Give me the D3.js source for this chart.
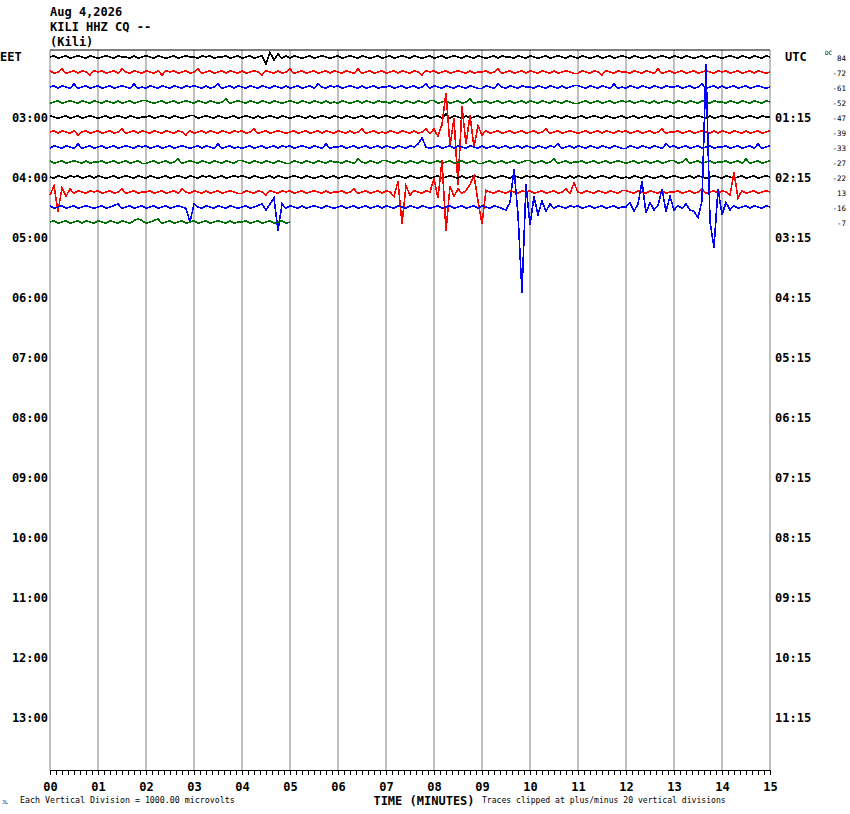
<!DOCTYPE html>
<html>
<head>
<meta charset="utf-8">
<script src="https://cdn.jsdelivr.net/npm/d3@7"></script>
<style>
  body { margin: 0; background: #fff; }
  text { font-family: "DejaVu Sans Mono", monospace; }
</style>
</head>
<body>
<script>
// header
var titleLines = ["Aug 4,2026", "KILI HHZ CQ --", "(Kili)"];
// row labels (every 4th row, one row = 15 minutes)
var eetLabels = ["03:00","04:00","05:00","06:00","07:00","08:00","09:00","10:00","11:00","12:00","13:00"];
var utcLabels = ["01:15","02:15","03:15","04:15","05:15","06:15","07:15","08:15","09:15","10:15","11:15"];
var dcValues = [84, -72, -61, -52, -47, -39, -33, -27, -22, 13, -16, -7];
var minuteLabels = ["00","01","02","03","04","05","06","07","08","09","10","11","12","13","14","15"];
var traceColors = ["#000000", "#ff0000", "#0000ff", "#007000"];

// trace samples, one value every 5 s (12 per minute), in units of 100 microvolts
var row00 = [
  0,1,-1,0,1,-1,0,1,0,-1,1,0,
  -1,0,1,0,-1,1,0,0,-1,1,-1,0,
  1,0,-1,1,0,-1,0,1,-1,0,1,0,
  0,-1,1,0,1,-1,0,0,1,-1,0,1,
  -1,0,1,-1,0,1,-5,3,-2,2,-1,1,
  -1,1,0,-1,0,1,-1,0,1,0,-1,0,
  1,-1,0,1,0,-1,1,0,-1,0,1,-1,
  0,1,-1,0,1,0,-1,1,0,-1,0,1,
  -1,0,1,-1,0,1,0,-1,1,0,-1,1,
  0,-1,0,1,-1,1,0,0,-1,1,0,-1,
  1,0,-1,0,1,-1,0,1,0,-1,1,0,
  -1,1,0,-1,0,1,-1,0,1,-1,0,1,
  0,-1,1,0,-1,0,1,-1,0,1,0,-1,
  1,0,-1,1,0,-1,0,1,-1,0,1,0,
  -1,0,1,0,-1,1,0,-1,1,0,-1,1,
  0];
var row01 = [
  1,-1,0,2,-1,0,1,-1,1,0,-2,1,
  0,1,-1,0,1,-1,2,0,-1,1,0,-1,
  1,0,-1,1,-2,1,0,1,-1,0,1,-1,
  0,2,-1,0,1,-1,0,1,-1,1,0,-1,
  1,-1,0,1,0,-2,1,0,-1,1,-1,0,
  2,-1,0,1,-1,0,1,-1,0,1,-1,1,
  0,-1,1,0,-1,2,-1,0,1,-1,0,1,
  -1,0,1,-1,1,0,-1,1,0,-2,1,0,
  1,-1,0,1,-1,0,1,0,-1,1,-1,0,
  0,1,-1,0,2,-1,0,1,-1,0,1,-1,
  1,0,-1,1,0,-1,1,-1,0,1,0,-1,
  -1,1,0,-1,1,0,-2,1,0,-1,1,0,
  0,-1,1,0,-1,1,0,-1,2,-1,0,1,
  -1,0,1,-1,0,1,-1,0,1,0,-1,1,
  0,1,-1,0,1,-1,0,1,-1,1,0,-1,
  0];
var row02 = [
  0,1,-1,1,0,-1,2,-1,0,1,-1,0,
  1,-1,0,1,-1,0,1,0,-1,2,-1,0,
  -1,1,0,-1,1,0,-1,1,0,-1,1,0,
  1,0,-1,1,-1,0,2,-1,0,1,-1,1,
  0,-1,1,0,-1,1,0,-1,1,0,-1,1,
  -1,0,1,-1,0,1,-1,2,0,-1,1,0,
  1,-1,0,1,0,-1,1,-1,0,1,-1,0,
  0,1,-1,0,1,-1,0,1,-1,0,2,-1,
  1,0,-1,1,0,-1,1,0,-1,1,0,-1,
  -1,1,0,-1,2,0,-1,1,0,-1,1,0,
  0,-1,1,0,-1,1,0,-1,1,-1,0,1,
  1,0,-1,1,0,-1,1,0,-1,2,-1,0,
  -1,1,0,-1,1,0,-1,1,0,-1,1,0,
  0,1,-1,0,1,-1,0,2,-1,0,1,-1,
  1,-1,0,1,-1,0,1,-1,0,1,0,-1,
  0];
var row03 = [
  -1,0,1,-1,0,1,0,-1,1,0,-1,1,
  0,-1,1,0,-1,1,-1,0,1,-1,0,1,
  1,0,-1,0,1,-1,0,1,-1,0,1,0,
  -1,1,0,-1,1,0,-1,0,2,-1,0,1,
  0,-1,1,0,-1,1,0,-1,1,0,-1,0,
  1,0,-1,1,0,-1,1,0,-1,1,-1,0,
  -1,1,0,-1,0,1,-1,1,0,-1,1,0,
  0,-1,1,0,-1,1,0,-1,1,0,-1,1,
  1,-1,0,1,-1,0,1,-1,0,2,-1,0,
  0,1,-1,0,1,-1,0,1,-1,0,1,-1,
  1,0,-1,1,0,-1,1,0,-1,1,0,-1,
  -1,0,1,-1,0,1,-1,0,1,-1,0,1,
  0,1,-1,0,1,0,-1,1,-1,0,1,0,
  -1,1,0,-1,1,0,-1,1,0,-1,1,0,
  0,-1,1,0,-1,1,0,-1,1,0,-1,1,
  0];
var row04 = [
  1,0,-1,0,1,-1,0,1,-1,0,1,0,
  -1,0,1,-1,0,1,0,-1,1,0,-1,0,
  0,1,-1,0,1,0,-1,1,0,-1,0,1,
  1,-1,0,1,0,-1,1,0,-1,0,1,-1,
  0,1,0,-1,1,-1,0,1,0,-1,1,0,
  -1,0,1,0,-1,1,-1,0,1,0,-1,1,
  0,-1,1,0,-1,0,1,-1,0,1,-1,0,
  1,0,-1,1,0,-1,0,1,-1,0,1,-1,
  0,1,-1,2,-1,1,0,-1,1,-1,0,1,
  -1,0,1,-1,0,1,0,-1,1,0,-1,0,
  1,-1,0,1,0,-1,1,0,-1,1,0,-1,
  0,1,-1,0,1,0,-1,1,0,-1,0,1,
  -1,0,1,-1,0,1,-1,0,1,0,-1,1,
  0,-1,0,1,-1,0,1,0,-1,1,-1,0,
  1,0,-1,0,1,-1,0,1,0,-1,1,0,
  0];
var row05 = [
  0,1,-1,1,0,-1,1,-2,0,1,-1,0,
  1,-1,0,1,-1,0,2,-1,0,1,-1,1,
  0,-1,1,0,-1,1,0,-1,1,0,-2,1,
  -1,0,1,-1,1,0,-1,1,0,-1,1,0,
  1,-1,0,2,-1,0,1,-1,0,1,0,-1,
  0,1,-1,0,1,-1,0,1,-1,1,0,-1,
  1,0,-1,1,-1,0,2,-1,0,1,-1,0,
  -1,1,0,-1,1,0,-1,1,-1,0,2,-1,
  2,-3,5,26,-9,9,-35,17,-8,11,-10,4,
  -2,1,-1,0,1,-1,0,1,-1,0,1,-1,
  0,1,-1,0,2,-1,0,1,-1,0,1,0,
  -1,0,1,-1,0,1,-1,1,0,-1,1,0,
  1,-1,0,1,-1,0,1,-1,0,2,-1,0,
  0,1,-1,0,1,-1,0,1,0,-1,1,-1,
  1,0,-1,1,0,-1,1,-1,0,1,-1,0,
  1];
var row06 = [
  -1,1,0,-1,1,0,-1,2,-1,0,1,-1,
  0,1,-1,0,1,-1,0,1,0,-1,1,0,
  1,-1,0,1,-1,0,1,-1,0,1,0,-1,
  0,1,-1,1,0,-1,2,-1,0,1,-1,0,
  -1,0,1,-1,0,1,-1,0,1,-1,1,0,
  1,-1,0,1,0,-1,1,0,-1,2,-1,0,
  0,1,-1,0,1,-1,0,1,-1,0,1,-1,
  1,0,-1,1,0,-1,1,0,2,6,0,-1,
  0,1,-1,0,1,-1,1,0,-1,1,0,-1,
  1,-1,0,1,-1,0,1,-1,0,1,-1,1,
  0,-1,1,0,-1,1,0,2,-1,0,1,-1,
  1,0,-1,1,0,-1,1,0,-1,1,0,-1,
  -1,1,0,-1,1,0,-1,1,0,-1,2,0,
  1,-1,0,1,-1,0,1,-1,0,1,-1,0,
  0,1,-1,0,1,-1,0,1,-1,2,-1,0,
  1];
var row07 = [
  1,-1,0,1,-1,0,1,0,-1,1,-1,0,
  0,1,-1,0,1,-1,0,1,-1,0,1,-1,
  -1,0,1,-1,0,1,-1,0,2,-1,0,1,
  0,-1,1,0,-1,1,0,-1,1,0,-1,1,
  1,0,-1,1,0,-1,1,0,-1,1,0,-1,
  -1,1,0,-1,1,0,-1,1,0,-1,1,0,
  0,-1,1,0,-1,2,0,-1,1,0,-1,1,
  1,0,-1,1,0,-1,1,0,-1,1,0,-1,
  0,1,-1,0,1,-1,0,1,-1,0,1,-1,
  -1,0,1,-1,0,1,-1,0,1,-1,0,1,
  1,-1,0,1,-1,0,2,-1,0,1,-1,0,
  0,1,-1,0,1,-1,0,1,-1,0,1,0,
  -1,0,1,-1,0,1,-1,0,1,-1,0,1,
  1,-1,0,2,-1,0,1,-1,0,1,-1,0,
  0,1,-1,0,1,-1,2,-1,0,1,-1,0,
  1];
var row08 = [
  0,-1,1,0,-1,1,0,1,-1,0,1,-1,
  1,0,-1,0,1,-1,0,1,0,-1,1,0,
  -1,1,0,-1,0,1,-1,0,1,0,-1,1,
  0,-1,1,0,1,-1,0,1,-1,0,1,0,
  1,0,-1,1,0,-1,0,1,-1,1,0,-1,
  0,1,0,-1,1,0,-1,0,1,-1,0,1,
  -1,0,1,0,-1,1,0,-1,1,0,-1,0,
  1,-1,0,1,0,-1,1,0,-1,0,1,-1,
  0,1,-1,0,1,0,-1,1,-1,0,1,0,
  -1,0,1,-1,0,1,0,-1,1,0,-1,1,
  0,1,-1,0,1,-1,0,1,0,-1,1,-1,
  1,0,-1,1,-1,0,1,0,-1,1,0,-1,
  0,-1,1,0,-1,1,0,-1,0,1,-1,0,
  1,0,-1,0,1,-1,1,0,-1,0,1,0,
  -1,1,0,-1,0,1,-1,0,1,-1,0,1,
  0];
var row09 = [
  -2,4,-13,3,-3,2,-1,1,0,-1,1,0,
  1,-1,0,1,-1,0,2,-1,0,1,-1,0,
  0,1,-1,0,1,-1,0,1,-1,2,0,-1,
  1,0,-1,1,-1,0,1,-1,0,1,0,-1,
  -1,1,0,-1,1,0,-2,1,0,-1,1,0,
  1,-1,0,1,-1,0,1,0,-1,1,-1,0,
  0,1,-1,0,2,-1,0,1,-1,0,1,-1,
  1,0,-3,7,-21,4,-2,1,0,-1,1,0,
  9,-4,21,-26,4,-3,2,-1,1,5,11,-6,
  -21,1,0,-1,1,0,-1,1,0,-1,1,0,
  1,-1,0,1,-1,0,1,-1,0,2,-1,6,
  0,-1,1,0,-1,1,0,-1,1,0,-1,1,
  1,0,-1,1,0,-1,1,0,-1,1,-1,0,
  0,1,-1,0,1,-1,0,2,-1,0,1,-1,
  1,0,-2,13,-4,1,-1,0,1,-1,0,1,
  0];
var row10 = [
  1,-1,0,1,-1,0,1,-1,0,1,0,-1,
  0,1,-1,0,1,2,-1,0,1,-1,0,1,
  -1,0,1,-1,0,1,-1,0,1,0,-1,-10,
  2,0,-1,1,0,-1,1,0,-1,1,0,-1,
  0,1,-1,0,1,2,-2,2,6,-16,2,-1,
  1,0,-1,1,-1,0,1,0,-1,1,0,-1,
  0,1,-1,0,1,-1,0,1,-1,0,1,-1,
  1,0,-1,1,0,-1,1,0,-1,1,0,-1,
  0,1,-1,0,1,-1,0,1,-1,0,1,-1,
  1,0,-1,1,0,-1,-2,3,25,-5,-57,15,
  -12,7,-5,4,-3,2,-1,1,0,-1,1,0,
  1,-1,0,1,-1,0,1,-1,0,1,-1,0,
  0,3,-3,2,17,-4,3,-2,1,12,-3,7,
  -2,1,-1,2,-2,-3,-7,4,95,-10,-27,12,
  -5,3,-2,1,-1,0,1,-1,1,0,-1,1,
  0];
var row11 = [
  0,1,-1,0,1,-1,0,1,-1,1,0,-1,
  1,0,-1,1,0,-1,1,0,-1,1,2,1,
  -1,0,1,2,-1,0,1,-1,0,1,-1,0,
  1,-1,0,1,-1,0,1,0,-1,1,-1,0,
  0,1,-1,0,1,-1,0,1,-1,0,1,-1,
  0];

var traces = [row00, row01, row02, row03, row04, row05, row06, row07, row08, row09, row10, row11];

var width = 850, height = 814;
var svg = d3.select("body").append("svg")
    .attr("width", width)
    .attr("height", height);

svg.append("rect").attr("width", width).attr("height", height).attr("fill", "#fff");

var x = d3.scaleLinear().domain([0, 15]).range([50, 770]);
var yRow = d3.scaleLinear().domain([0, 47]).range([57, 762]);
// one vertical division (1000 microvolts) per row spacing
var amp = d3.scaleLinear().domain([0, 1000]).range([0, -15]);
var step = 1 / 12;

// grid
svg.append("g").selectAll("line")
    .data(d3.range(0, 16))
    .enter().append("line")
    .attr("x1", function(d) { return x(d); })
    .attr("x2", function(d) { return x(d); })
    .attr("y1", 50)
    .attr("y2", 770)
    .attr("stroke", "#808080")
    .attr("stroke-width", 1);

svg.append("line")
    .attr("x1", x(0)).attr("x2", x(15))
    .attr("y1", 50).attr("y2", 50)
    .attr("stroke", "#000");

// traces
var line = d3.line()
    .x(function(d, k) { return x(k * step); });

svg.append("g").selectAll("path")
    .data(traces)
    .enter().append("path")
    .attr("d", function(d, i) {
        return line.y(function(v) {
            var uv = Math.max(-20000, Math.min(20000, v * 100));
            return yRow(i) + amp(uv);
        })(d);
    })
    .attr("fill", "none")
    .attr("stroke", function(d, i) { return traceColors[i % 4]; })
    .attr("stroke-width", 1.6)
    .attr("shape-rendering", "crispEdges");

// header
svg.append("g").selectAll("text")
    .data(titleLines)
    .enter().append("text")
    .attr("x", 50)
    .attr("y", function(d, i) { return 12 + i * 15; })
    .attr("dy", "0.35em")
    .attr("font-size", "12px")
    .attr("font-weight", "bold")
    .text(function(d) { return d; });

// left/right labels
svg.append("text").attr("x", 0).attr("y", yRow(0)).attr("dy", "0.35em")
    .attr("font-size", "12px").attr("font-weight", "bold").text("EET");
svg.append("text").attr("x", 785).attr("y", yRow(0)).attr("dy", "0.35em")
    .attr("font-size", "12px").attr("font-weight", "bold").text("UTC");

svg.append("g").selectAll("text")
    .data(eetLabels)
    .enter().append("text")
    .attr("x", 48)
    .attr("y", function(d, i) { return yRow((i + 1) * 4) + 1; })
    .attr("dy", "0.35em")
    .attr("text-anchor", "end")
    .attr("font-size", "12px")
    .attr("font-weight", "bold")
    .text(function(d) { return d; });

svg.append("g").selectAll("text")
    .data(utcLabels)
    .enter().append("text")
    .attr("x", 775)
    .attr("y", function(d, i) { return yRow((i + 1) * 4) + 1; })
    .attr("dy", "0.35em")
    .attr("font-size", "12px")
    .attr("font-weight", "bold")
    .text(function(d) { return d; });

// DC offsets
svg.append("text").attr("x", 825).attr("y", 53).attr("dy", "0.35em")
    .attr("font-size", "6px").text("DC");
svg.append("g").selectAll("text")
    .data(dcValues)
    .enter().append("text")
    .attr("x", 846)
    .attr("y", function(d, i) { return yRow(i) + 1; })
    .attr("dy", "0.35em")
    .attr("text-anchor", "end")
    .attr("font-size", "7.5px")
    .text(function(d) { return d; });

// time axis
var axis = d3.axisBottom(x)
    .tickValues(d3.range(0, 121).map(function(t) { return t / 8; }))
    .tickSize(5)
    .tickSizeOuter(0)
    .tickPadding(7)
    .tickFormat(function(d) { return Number.isInteger(d) ? minuteLabels[d] : ""; });

var gAxis = svg.append("g")
    .attr("transform", "translate(0,770)")
    .call(axis);
gAxis.select(".domain").attr("stroke", "#000");
gAxis.selectAll(".tick line").attr("stroke", "#000");
gAxis.selectAll("text")
    .attr("font-family", "DejaVu Sans Mono, monospace")
    .attr("font-size", "12px")
    .attr("font-weight", "bold")
    .attr("fill", "#000");

svg.append("text").attr("x", 424).attr("y", 805)
    .attr("text-anchor", "middle")
    .attr("font-size", "12px").attr("font-weight", "bold")
    .text("TIME (MINUTES)");
svg.append("text").attr("x", 20).attr("y", 800).attr("dy", "0.35em")
    .attr("font-size", "8.3px")
    .text("Each Vertical Division = 1000.00 microvolts");
svg.append("text").attr("x", 482).attr("y", 800).attr("dy", "0.35em")
    .attr("font-size", "8.1px")
    .text("Traces clipped at plus/minus 20 vertical divisions");
svg.append("text").attr("x", 2).attr("y", 802).attr("dy", "0.35em")
    .attr("font-size", "5px")
    .text("JL");
</script>
</body>
</html>
